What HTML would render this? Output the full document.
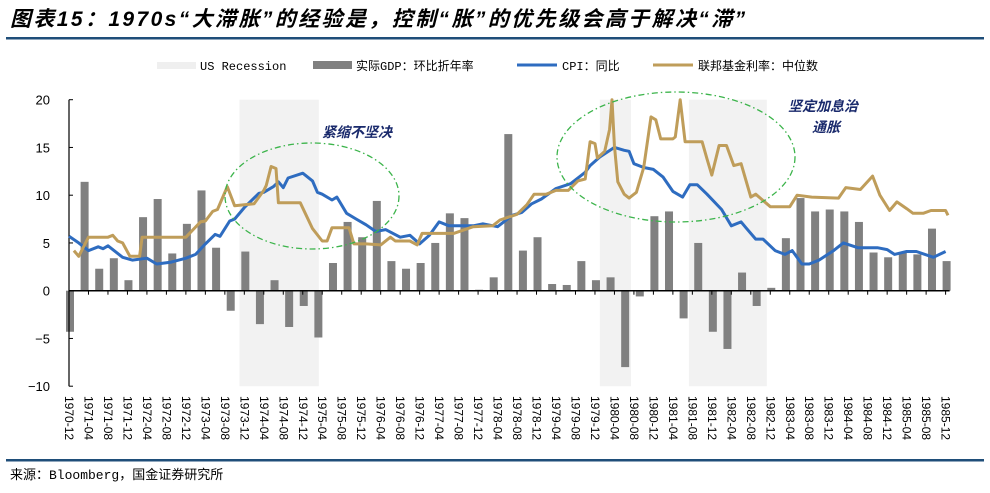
<!DOCTYPE html>
<html><head><meta charset="utf-8"><style>
body{margin:0;background:#fff;width:990px;height:488px;overflow:hidden;font-family:"Liberation Sans","Noto Sans CJK SC",sans-serif}
</style></head><body>
<svg width="990" height="488" xmlns="http://www.w3.org/2000/svg">
<text x="10" y="26" font-size="21" letter-spacing="2.4" font-weight="bold" font-style="italic" font-family="'Liberation Sans','Noto Sans CJK SC',sans-serif" fill="#000">图表15：1970s“大滞胀”的经验是，控制“胀”的优先级会高于解决“滞”</text>
<rect x="6" y="37" width="978" height="2.5" fill="#1f4e79"/>
<rect x="6" y="459" width="978" height="2.5" fill="#1f4e79"/>
<text x="10" y="479" font-size="13" font-family="'Liberation Mono','Noto Sans CJK SC',monospace">来源：Bloomberg，国金证券研究所</text>
<g font-size="12" font-family="'Liberation Mono','Noto Sans CJK SC',monospace">
<g><rect x="157" y="62" width="39" height="7" fill="#efefef"/><text x="200" y="70">US Recession</text></g>
<g><rect x="313" y="61" width="39" height="8" fill="#808080"/><text x="356" y="70">实际GDP：环比折年率</text></g>
<g><line x1="517" y1="65" x2="557" y2="65" stroke="#2e6cc0" stroke-width="3"/><text x="562" y="70">CPI：同比</text></g>
<g><line x1="653" y1="65" x2="693" y2="65" stroke="#bf9d5a" stroke-width="3"/><text x="698" y="70">联邦基金利率：中位数</text></g>
</g>
<g id="plot"></g>
</svg>
<script>
const gdpValues=[-4.3,11.4,2.3,3.4,1.1,7.7,9.6,3.9,7.0,10.5,4.5,-2.1,4.1,-3.5,1.1,-3.8,-1.6,-4.9,2.9,7.2,5.6,9.4,3.1,2.3,2.9,5.0,8.1,7.6,0.1,1.4,16.4,4.2,5.6,0.7,0.6,3.1,1.1,1.4,-8.0,-0.6,7.8,8.3,-2.9,5.0,-4.3,-6.1,1.9,-1.6,0.3,5.5,9.7,8.3,8.5,8.3,7.2,4.0,3.5,4.0,3.8,6.5,3.1];
const cpiMonths=[0,2,4,6,7,8,11,13,16,18,21,24,26,28,30,31,33,34,36,39,40,42,43,44,45,48,50,51,52,54,55,57,59,61,63,65,68,70,72,74,76,78,80,83,85,88,91,93,95,97,100,103,106,107,109,112,114,115,116,118,120,122,124,126,127.5,129,131,134,136,138,139,141,142.5,145,147,148.5,150.5,152,154,157,159,162,166,168,169.5,172,174,177.5,180];
const cpiValues=[5.7,5.0,4.2,4.6,4.4,4.7,3.5,3.2,3.4,2.8,3.0,3.4,3.8,4.9,5.9,5.7,7.3,7.5,8.7,10.2,10.3,10.9,11.4,10.8,11.8,12.3,11.5,10.3,10.1,9.5,9.8,8.1,7.5,6.9,6.2,6.4,5.6,5.8,4.9,5.8,7.2,6.8,6.8,6.8,7.0,6.7,7.9,8.2,9.1,9.6,10.7,11.2,12.4,13.1,14.0,15.0,14.7,14.6,13.3,12.9,12.7,11.9,10.4,9.8,11.1,11.1,10.1,8.5,6.8,7.2,6.6,5.4,5.4,4.2,3.8,4.2,2.8,2.8,3.2,4.2,5.0,4.5,4.5,4.3,3.8,4.1,4.1,3.5,4.1];
const fedMonths=[1,2,4,8,9,10,11,12.5,14.5,15,24,27,28,29.5,30.5,32.5,34,38,40,40.5,41.5,42.5,43,47.5,50,52,53,54,57.5,58.5,61,64,66,67,70,71.5,72.5,79,83,87,88.5,92,94,95.5,98,100,102.5,104.5,106,107,108,108.5,110,111,111.5,112,112.7,114,115,116.5,118,119.5,120.5,121.5,124,124.5,125.5,126.5,130,131,132,133.5,135,136.5,138,140,141,144,148,149.5,152.5,158,159.5,162.5,165,166.5,168.5,170,172,173.3,175.4,177,180,180.5];
const fedValues=[4.2,3.6,5.6,5.6,5.8,5.2,5.0,3.6,3.6,5.6,5.6,7.2,7.3,8.3,8.5,10.9,8.9,9.1,10.5,11.0,13.0,12.8,9.2,9.2,6.5,5.2,5.2,6.6,6.6,4.9,4.9,4.8,5.6,5.2,5.2,4.8,6.0,6.0,6.7,6.8,7.4,8.0,9.0,10.1,10.1,10.5,10.5,11.5,11.7,15.6,15.4,13.9,14.6,16.9,20.0,15.2,11.4,10.1,9.7,10.3,12.9,18.2,17.9,15.9,15.9,16.1,20.0,15.6,15.6,13.8,12.1,15.2,15.2,13.1,13.3,9.8,10.1,8.8,8.8,10.0,9.8,9.7,10.8,10.6,12.0,10.0,8.4,9.3,8.6,8.1,8.1,8.4,8.4,7.9];
const recessions=[[35,51.3],[109,115.4],[127.3,143.3]];
const yTicks=[20,15,10,5,0,-5,-10];
const xLabels=[];for(let y=1970,m=12;y*12+m<=1985*12+12;m+=4){if(m>12){m-=12;y++;}if(y*12+m>1985*12+12)break;xLabels.push(y+'-'+String(m).padStart(2,'0'));}
const NS='http://www.w3.org/2000/svg';
const X0=69,PXM=4.87,Y0=290.7,PXU=9.55;
const xm=m=>X0+m*PXM, yv=v=>Y0-v*PXU;
const plot=document.getElementById('plot');
function mk(tag,attrs,parent){const e=document.createElementNS(NS,tag);for(const k in attrs)e.setAttribute(k,attrs[k]);(parent||plot).appendChild(e);return e;}
recessions.forEach(r=>{const e=mk('rect',{x:xm(r[0]),y:yv(20),width:xm(r[1])-xm(r[0]),height:yv(-10)-yv(20),fill:'#f2f2f2'});

});
gdpValues.forEach((v,i)=>{const x=xm(i*3)+1;const e=mk('rect',{x:x-4,y:Math.min(yv(v),Y0),width:8,height:Math.abs(yv(v)-Y0),fill:'#808080'});

});
const yaxis=mk('line',{x1:X0,y1:yv(20),x2:X0,y2:yv(-10),stroke:'#000','stroke-width':1.2});


yTicks.forEach(t=>{mk('line',{x1:X0,y1:yv(t),x2:X0+4,y2:yv(t),stroke:'#000'});
const tx=mk('text',{x:50,y:yv(t)+5,'text-anchor':'end','font-size':13});tx.textContent=t<0?'−'+(-t):t;

});
const xaxis=mk('line',{x1:X0,y1:Y0,x2:xm(180)+4,y2:Y0,stroke:'#000','stroke-width':1.5});


xLabels.forEach((l,i)=>{const x=xm(i*4);mk('line',{x1:x,y1:Y0,x2:x,y2:Y0+4,stroke:'#000'});
const tx=mk('text',{x:0,y:0,'font-size':12,transform:`translate(${x-4},396) rotate(90)`});tx.textContent=l;

});
function line(ms,vs,col,name){const d=ms.map((m,i)=>(i?'L':'M')+xm(m).toFixed(1)+','+yv(vs[i]).toFixed(1)).join('');
const p=mk('path',{d:d,fill:'none',stroke:col,'stroke-width':3,'stroke-linejoin':'round'});

}
line(cpiMonths,cpiValues,'#2e6cc0','cpi-line');
line(fedMonths,fedValues,'#bf9d5a','fed-funds-line');
const e1=mk('ellipse',{cx:312,cy:196,rx:87,ry:53,fill:'none',stroke:'#3cb44b','stroke-width':1.3,'stroke-dasharray':'6 3 1.5 3'});


const e2=mk('ellipse',{cx:676,cy:157,rx:119,ry:65,fill:'none',stroke:'#3cb44b','stroke-width':1.3,'stroke-dasharray':'6 3 1.5 3'});


[['紧缩不坚决',322,137],['坚定加息治',788,111],['通胀',812,132]].forEach(a=>{const t=mk('text',{x:a[1],y:a[2],'font-size':14,'font-weight':'bold','font-style':'italic',fill:'#1a2a6c'});t.textContent=a[0];

});
</script>
</body></html>
